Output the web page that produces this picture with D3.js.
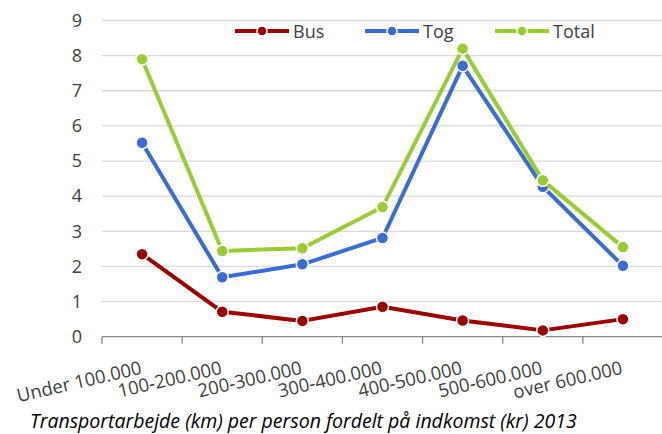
<!DOCTYPE html>
<html><head><meta charset="utf-8">
<script src="https://cdn.jsdelivr.net/npm/d3@7"></script>
<style>body{margin:0;background:#fff}svg{display:block}</style>
</head><body><svg id="c" width="662" height="434"></svg>
<script>
const categories = ["Under 100.000","100-200.000","200-300.000","300-400.000","400-500.000","500-600.000","over 600.000"];
const busValues = [2.35, 0.71, 0.45, 0.85, 0.46, 0.18, 0.50];
const togValues = [5.52, 1.69, 2.06, 2.81, 7.71, 4.27, 2.02];
const totalValues = [7.90, 2.44, 2.52, 3.69, 8.20, 4.45, 2.55];
const yTicks = [0,1,2,3,4,5,6,7,8,9];
const seriesNames = ["Bus","Tog","Total"];
const seriesColors = ["#9a0000","#3a6cd4","#99cc33"];

(function(){
const svg = d3.select("#c");
const font = "'Open Sans', sans-serif";
const pLeft = 102, pRight = 663, pTop = 20.5, pBottom = 336.7;
const x = d3.scaleBand().domain(categories).range([pLeft, pRight]);
const y = d3.scaleLinear().domain([0, 9]).range([pBottom, pTop]);

// gridlines
svg.append("g").selectAll("line").data(yTicks.filter(d=>d>0)).join("line")
  .attr("x1", pLeft).attr("x2", 662).attr("y1", d=>y(d)).attr("y2", d=>y(d))
  .attr("stroke", "#d9d9d9").attr("stroke-width", 1.3);

// y axis labels
const ya = svg.append("g").attr("transform", `translate(${pLeft-20},0)`)
  .call(d3.axisLeft(y).tickValues(yTicks).tickSize(0).tickPadding(0));
ya.select(".domain").remove();
ya.selectAll("text").attr("font-family", font).attr("font-size", 18).attr("fill", "#404040");

// x axis
const xa = svg.append("g").attr("transform", `translate(0,${pBottom})`)
  .call(d3.axisBottom(x).tickSize(0).tickFormat(""));
xa.select(".domain").attr("stroke", "#898989").attr("stroke-width", 1.3).attr("d", `M${pLeft},0H662`);
const bounds = categories.map(c=>x(c));
svg.append("g").selectAll("line").data(bounds).join("line")
  .attr("x1", d=>d).attr("x2", d=>d).attr("y1", pBottom).attr("y2", pBottom+7)
  .attr("stroke", "#898989").attr("stroke-width", 1.3);

svg.append("g").selectAll("text").data(categories).join("text")
  .attr("transform", d=>`translate(${x(d)+x.bandwidth()/2+0.5},${pBottom+37}) rotate(-13)`)
  .attr("text-anchor", "end").attr("font-family", font).attr("font-size", 18.5).attr("fill", "#404040")
  .text(d=>d);

// series
const allSeries = [busValues, togValues, totalValues];
const line = d3.line().x((d,i)=>x(categories[i])+x.bandwidth()/2).y(d=>y(d));
allSeries.forEach((vals, si) => {
  const g = svg.append("g");
  g.append("path").datum(vals).attr("d", line).attr("fill","none")
    .attr("stroke", seriesColors[si]).attr("stroke-width", 4).attr("stroke-linejoin","round");
  g.selectAll("circle").data(vals).join("circle")
    .attr("cx", (d,i)=>x(categories[i])+x.bandwidth()/2).attr("cy", d=>y(d)).attr("r", 6)
    .attr("fill", seriesColors[si]).attr("stroke", "#fff").attr("stroke-width", 1.5);
});

// legend
const legX = [235, 365, 495];
seriesNames.forEach((n, i) => {
  const g = svg.append("g").attr("transform", `translate(${legX[i]},31)`);
  g.append("line").attr("x1", 0).attr("x2", 54).attr("stroke", seriesColors[i]).attr("stroke-width", 4);
  g.append("circle").attr("cx", 27).attr("r", 5).attr("fill", seriesColors[i]).attr("stroke","#fff").attr("stroke-width",1.5);
  g.append("text").attr("x", 58).attr("y", 6.5).attr("font-family", font).attr("font-size", 18).attr("fill", "#404040").text(n);
});

// caption
svg.append("text").attr("x", 30).attr("y", 428).attr("font-family", font).attr("font-style","italic")
  .attr("font-size", 19.5).attr("fill", "#000").text("Transportarbejde (km) per person fordelt på indkomst (kr) 2013");
})();
</script></body></html>
